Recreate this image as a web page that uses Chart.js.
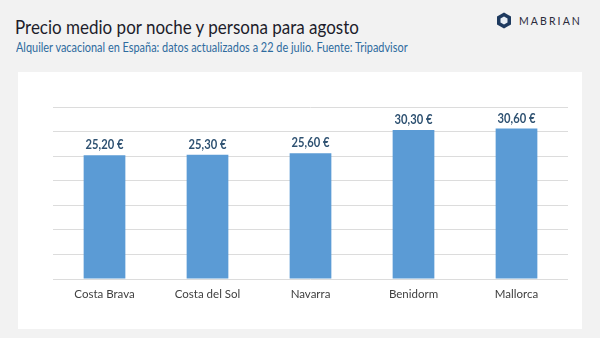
<!DOCTYPE html>
<html>
<head>
<meta charset="utf-8">
<script src="https://cdn.jsdelivr.net/npm/chart.js@4"></script>
<style>
  html, body { margin: 0; padding: 0; }
  body { width: 600px; height: 338px; background: #f2f2f2; position: relative; overflow: hidden; font-family: Lato, sans-serif; }
  .title { position: absolute; left: 15px; top: 14px; font-size: 20px; color: #1d1d2b; white-space: nowrap; transform: scaleX(0.85); transform-origin: left top; }
  .subtitle { position: absolute; left: 16px; top: 39px; font-size: 13px; color: #2e6b9e; white-space: nowrap; transform: scaleX(0.84); transform-origin: left top; }
  .logo { position: absolute; left: 496px; top: 12px; height: 16px; }
  .logo svg { position: absolute; left: 0; top: 0; }
  .logo span { position: absolute; left: 23px; top: 3px; font-size: 10.5px; letter-spacing: 2.1px; color: #2b2b3b; }
  .panel { position: absolute; left: 18px; top: 72px; width: 564px; height: 257px; background: #fff; }
</style>
</head>
<body>
<div class="title">Precio medio por noche y persona para agosto</div>
<div class="subtitle">Alquiler vacacional en España: datos actualizados a 22 de julio. Fuente: Tripadvisor</div>
<div class="logo">
  <svg width="16" height="17" viewBox="0 0 16 17">
    <polygon points="8,0.5 15,4.5 15,12.5 8,16.5 1,12.5 1,4.5" fill="#1e3a5f"/>
    <polygon points="8,4.5 11.5,6.5 11.5,10.5 8,12.5 4.5,10.5 4.5,6.5" fill="#e8eef5"/>
  </svg>
  <span>MABRIAN</span>
</div>
<div class="panel"><canvas id="chart" width="564" height="257"></canvas></div>
<script>
// data
const destinos = ["Costa Brava", "Costa del Sol", "Navarra", "Benidorm", "Mallorca"];
const precios = [25.20, 25.30, 25.60, 30.30, 30.60];
const etiquetas = ["25,20 €", "25,30 €", "25,60 €", "30,30 €", "30,60 €"];

const ctx = document.getElementById("chart").getContext("2d");

// value labels above bars
const valueLabels = {
  id: "valueLabels",
  afterDatasetsDraw(chart) {
    const c = chart.ctx;
    const meta = chart.getDatasetMeta(0);
    meta.data.forEach((bar, i) => {
      c.save();
      c.translate(bar.x, bar.y - 6);
      c.scale(0.86, 1);
      c.font = "bold 13px Lato";
      c.fillStyle = "#2f5272";
      c.textAlign = "center";
      c.textBaseline = "alphabetic";
      c.fillText(etiquetas[i], 0, 0);
      c.restore();
    });
  }
};

new Chart(ctx, {
  type: "bar",
  data: {
    labels: destinos,
    datasets: [{
      data: precios,
      backgroundColor: "#5b9bd5",
      barPercentage: 0.405,
      categoryPercentage: 1
    }]
  },
  options: {
    responsive: false,
    animation: false,
    layout: { padding: { left: 35, right: 14, top: 35, bottom: 0 } },
    plugins: { legend: { display: false }, tooltip: { enabled: false } },
    scales: {
      x: {
        grid: { display: false, drawTicks: false },
        border: { display: false },
        ticks: { color: "#404040", font: { family: "Lato", size: 11.5 }, padding: 8 },
        afterFit(scale) { scale.height = 50; }
      },
      y: {
        min: 0,
        max: 35,
        ticks: { stepSize: 5, display: false },
        grid: { color: "#dcdcdc", lineWidth: 1, drawTicks: false },
        border: { display: false },
        afterFit(scale) { scale.width = 0; }
      }
    }
  },
  plugins: [valueLabels]
});
</script>
</body>
</html>
